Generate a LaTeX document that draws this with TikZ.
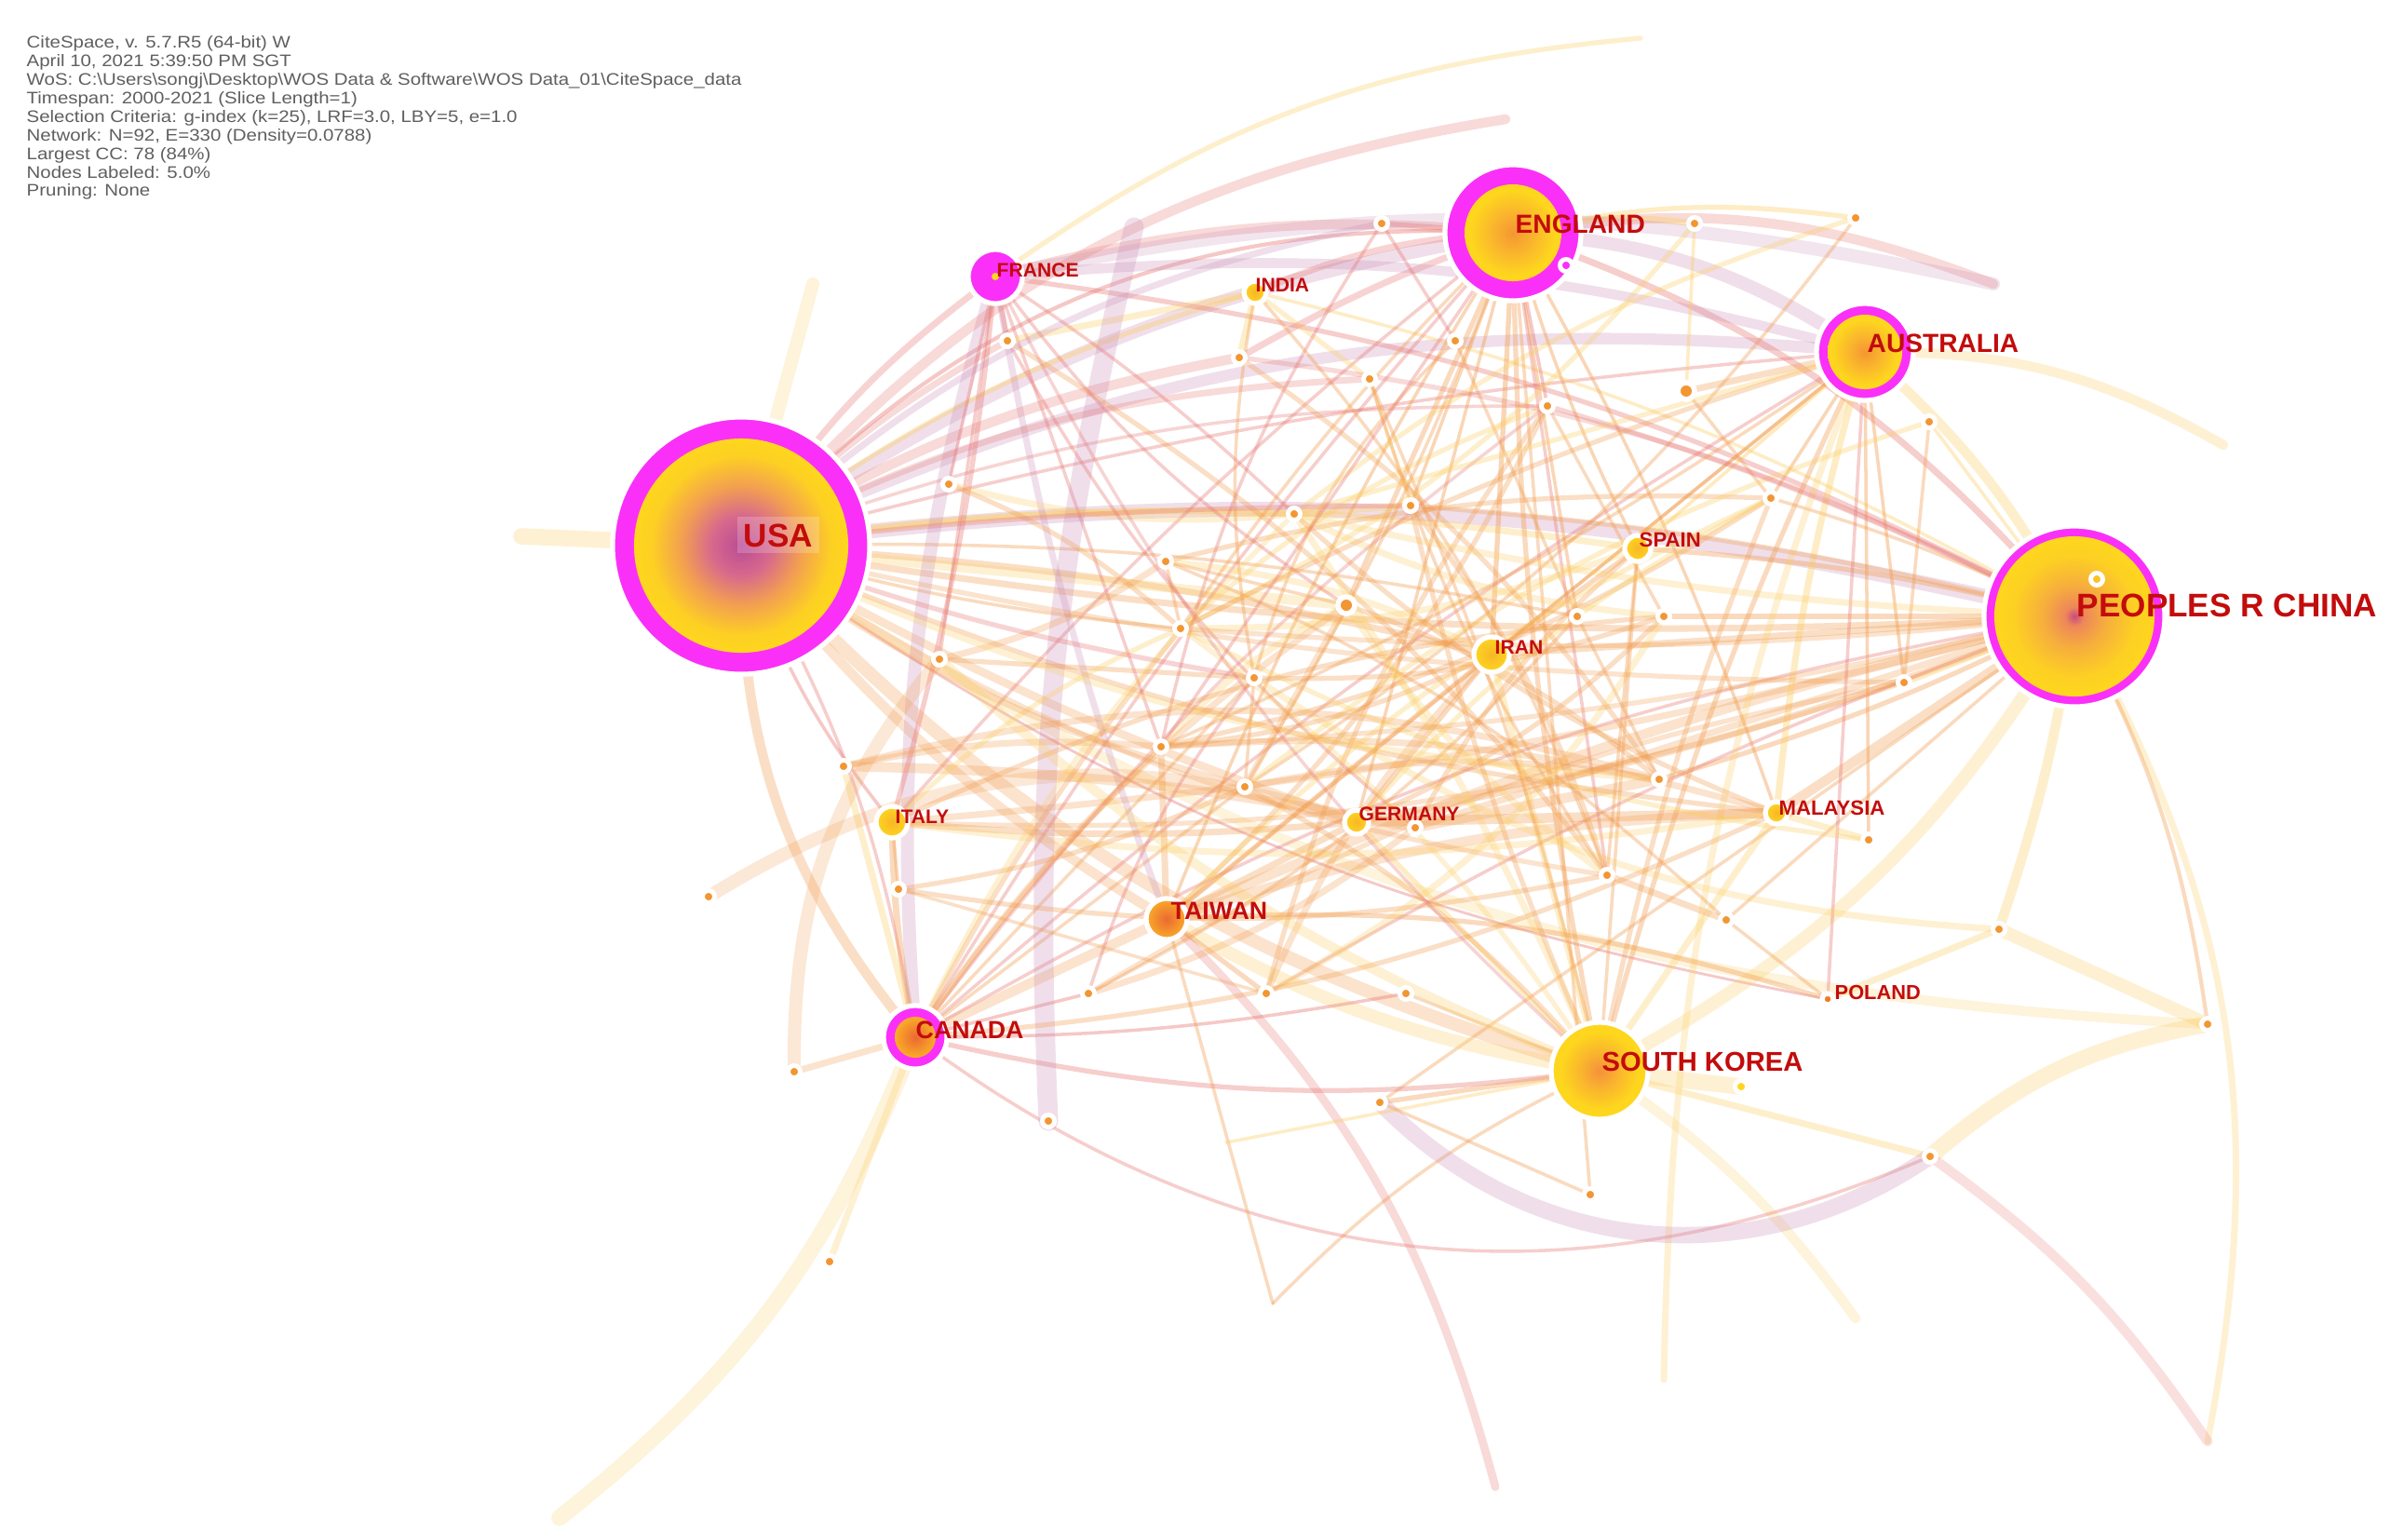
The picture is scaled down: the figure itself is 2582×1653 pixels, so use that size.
\documentclass[tikz,border=0pt]{standalone}
\usepackage{fontspec}
\setmainfont{Liberation Sans}
\newfontfamily\hdrfont[FakeStretch=1.14]{Liberation Sans}
\pgfdeclarelayer{edges}
\pgfsetlayers{edges,main}
\definecolor{ringmag}{RGB}{250,48,248}
\definecolor{labred}{RGB}{195,12,12}
\definecolor{hdrgray}{RGB}{95,95,95}
\definecolor{cY}{RGB}{253,205,95}
\definecolor{cO}{RGB}{242,155,75}
\definecolor{cR}{RGB}{232,120,115}
\definecolor{cM}{RGB}{200,140,180}
\definecolor{nodY}{RGB}{254,214,30}
\definecolor{nodO}{RGB}{242,150,50}
\definecolor{uP}{RGB}{185,75,150}
\definecolor{uP2}{RGB}{215,105,140}
\definecolor{uO}{RGB}{243,160,80}
\definecolor{uY}{RGB}{253,208,35}
\definecolor{cnP}{RGB}{200,75,125}
\definecolor{cnO}{RGB}{238,135,90}
\definecolor{cnO2}{RGB}{246,175,60}
\definecolor{enO}{RGB}{245,150,50}
\definecolor{enO2}{RGB}{250,182,45}
\definecolor{krO}{RGB}{245,145,60}
\definecolor{twO}{RGB}{235,105,50}
\definecolor{twO2}{RGB}{250,172,40}
\definecolor{yC}{RGB}{248,182,40}
\pgfdeclareradialshading{shUSA}{\pgfpoint{0bp}{0bp}}{color(0bp)=(uP); color(7bp)=(uP2); color(14bp)=(uO); color(21bp)=(uY); color(25bp)=(nodY); color(50bp)=(nodY)}
\pgfdeclareradialshading{shCN}{\pgfpoint{0bp}{0bp}}{color(0bp)=(cnP); color(3bp)=(cnO); color(10bp)=(cnO2); color(19bp)=(uY); color(25bp)=(nodY); color(50bp)=(nodY)}
\pgfdeclareradialshading{shEN}{\pgfpoint{0bp}{0bp}}{color(0bp)=(enO); color(11bp)=(enO2); color(22bp)=(nodY); color(50bp)=(nodY)}
\pgfdeclareradialshading{shKR}{\pgfpoint{0bp}{0bp}}{color(0bp)=(krO); color(10bp)=(enO2); color(20bp)=(nodY); color(50bp)=(nodY)}
\pgfdeclareradialshading{shT}{\pgfpoint{0bp}{0bp}}{color(0bp)=(twO); color(25bp)=(twO2); color(50bp)=(twO2)}
\pgfdeclareradialshading{shY}{\pgfpoint{0bp}{0bp}}{color(0bp)=(yC); color(25bp)=(nodY); color(50bp)=(nodY)}
\tikzset{
  ring/.style={circle, inner sep=0pt, fill=ringmag, draw=white, line width=1.5pt},
  smallnode/.style={circle, inner sep=0pt, draw=white, line width=1.5pt},
  dotnode/.style={circle, inner sep=0pt, minimum size=0.13cm, fill=nodO, draw=white, line width=1.4pt},
  bigdot/.style={circle, inner sep=0pt, minimum size=0.18cm, fill=nodO, draw=white, line width=1.6pt},
  edgeline/.style={line cap=round},
  lbl/.style={anchor=base west, inner sep=0pt, text=labred, font=\bfseries},
  hdr/.style={anchor=north west, inner sep=0pt, align=left, text=hdrgray, font=\hdrfont\fontsize{5.1}{5.66}\selectfont}
}
\begin{document}
\begin{tikzpicture}[x=0.01cm,y=-0.01cm]
\useasboundingbox (0,0) rectangle (2582,1653);
% ---- major nodes with magenta rings
\node[ring, minimum size=2.76cm] (usa) at (796,586) {};
\node[ring, minimum size=1.94cm] (china) at (2228,662) {};
\node[ring, minimum size=1.46cm] (england) at (1625,250) {};
\node[ring, minimum size=1.04cm] (australia) at (2003,378) {};
\node[ring, minimum size=0.68cm] (canada) at (983,1114) {};
\node[ring, minimum size=0.58cm] (france) at (1069,297) {};
\shade[shading=shUSA] (usa.center) circle[radius=1.15cm];
\shade[shading=shCN] (china.center) circle[radius=0.86cm];
\shade[shading=shEN] (england.center) circle[radius=0.52cm];
\shade[shading=shEN] (australia.center) circle[radius=0.40cm];
\shade[shading=shT] (canada.center) circle[radius=0.22cm];
\fill[nodY] (france.center) circle[radius=0.04cm];
% ---- other labelled nodes
\node[smallnode, shading=shKR, minimum size=1.04cm] (korea) at (1718,1150) {};
\node[smallnode, shading=shT, minimum size=0.44cm] (taiwan) at (1253,987) {};
\node[smallnode, shading=shY, minimum size=0.24cm] (india) at (1348,314) {};
\node[smallnode, shading=shY, minimum size=0.28cm] (spain) at (1759,589) {};
\node[smallnode, shading=shY, minimum size=0.38cm] (iran) at (1602,703) {};
\node[smallnode, shading=shY, minimum size=0.26cm] (germany) at (1457,883) {};
\node[smallnode, shading=shY, minimum size=0.24cm] (malaysia) at (1908,873) {};
\node[smallnode, shading=shY, minimum size=0.34cm] (italy) at (958,883) {};
\node[smallnode, shading=shT, minimum size=0.12cm] (poland) at (1963,1073) {};
% ---- unlabelled nodes
\foreach \nm/\px/\py in {d1/1082/366, d2/1331/384, d3/1471/407, d4/1563/366, d5/1484/240,
  d6/1820/240, d7/1993/234, d9/1662/436, d10/1902/535, d11/2072/453, d12/1390/552,
  d13/1515/543, d14/1694/662, d15/1787/662, d16/2045/733, d17/1782/837, d18/2007/902,
  d19/1726/940, d20/1854/988, d21/2147/998, d22/2371/1100, d24/2073/1242,
  d25/1708/1283, d26/1482/1184, d27/1510/1067, d28/1360/1067, d29/1169/1067, d30/1126/1204,
  d31/853/1151, d32/761/963, d33/906/823, d34/965/955, d35/1009/708, d36/1347/728,
  d37/1247/802, d38/1337/845, d39/1520/889, d40/1268/675, d41/1019/520, d42/1252/603,
  d43/891/1355}{\node[dotnode] (\nm) at (\px,\py) {};}
\node[bigdot] (d8) at (1811,420) {};
\node[bigdot] (d44) at (1446,650) {};
\node[dotnode, fill=nodY] (d23) at (1870,1167) {};
\node[dotnode, fill=ringmag] (d45) at (1682,285) {};
\node[dotnode, fill=nodY!70!nodO] (d46) at (2252,622) {};
% ---- free ends of edges
\foreach \nm/\px/\py in {f1/1218/244, f2/1617/128, f3/1762/41, f4/560/576, f5/873/305,
  f6/601/1630, f7/1606/1597, f8/1993/1416, f9/1787/1482, f10/2371/1548, f11/1367/1400,
  f12/2388/478, f13/2141/305, f15/1317/1227}{\coordinate (\nm) at (\px,\py);}
% ---- edges (positive bend: bulge to the right of travel)
\begin{pgfonlayer}{edges}
\fill[white] (0,0) rectangle (2582,1653);
\foreach \na/\nb/\bd/\ec/\ew/\eo in {
 usa/china/-10/cM/4.5/0.3, usa/china/6/cO/2/0.35, usa/england/-12/cM/4/0.3,
 usa/england/-25/cR/1.2/0.45, usa/australia/-15/cM/3.5/0.3, usa/australia/-5/cR/1/0.4,
 usa/korea/15/cO/4/0.3, usa/canada/20/cO/3/0.35, usa/canada/-10/cR/1/0.4,
 usa/taiwan/10/cO/3/0.3, usa/france/-10/cR/2/0.35, usa/italy/10/cR/1/0.45,
 usa/iran/-5/cO/2/0.35, usa/spain/-8/cY/2/0.35, usa/germany/5/cO/2.5/0.3,
 usa/malaysia/8/cO/1.5/0.35, usa/india/-10/cY/1.5/0.4, usa/poland/12/cR/0.8/0.45,
 usa/d44/0/cY/3/0.3, usa/d12/-5/cY/2/0.35, usa/d40/5/cO/1/0.4, usa/d22/15/cY/3/0.25,
 usa/f4/0/cY/5/0.3, usa/d14/-6/cO/1/0.4, usa/d9/-10/cR/1/0.35, usa/d2/-10/cR/3/0.3,
 china/england/15/cR/2/0.4, china/australia/10/cY/3/0.35, china/korea/-15/cY/4/0.3,
 china/taiwan/5/cO/3/0.3, china/canada/10/cR/1/0.4, china/malaysia/0/cO/3/0.35,
 china/spain/5/cO/1.5/0.4, china/iran/0/cO/2/0.35, china/germany/-5/cO/2/0.35,
 china/italy/-5/cO/2/0.3, china/france/10/cR/1.5/0.4, china/india/8/cY/1/0.4,
 china/d15/0/cO/1.5/0.4, china/d17/-5/cO/1.5/0.4, china/d16/0/cY/2/0.4,
 china/d10/5/cO/1/0.4, china/d11/0/cY/1/0.4, china/d20/0/cO/1/0.4,
 china/d21/-5/cY/3/0.35, china/d26/0/cO/1/0.4, china/d28/5/cR/1/0.4,
 china/f10/-20/cY/2/0.3, china/d22/-10/cO/1.2/0.4,
 england/australia/-15/cM/4/0.3, england/korea/5/cO/1.5/0.4, england/france/10/cR/3/0.3,
 england/canada/5/cR/1/0.4, england/taiwan/5/cO/1/0.45, england/iran/0/cO/1.5/0.45,
 england/spain/5/cO/1/0.45, england/germany/0/cO/1/0.45, england/malaysia/-5/cO/1/0.45,
 england/italy/5/cR/1/0.4, england/india/10/cR/2/0.35, england/d2/5/cR/2/0.35,
 england/d9/0/cR/1/0.45, england/d13/0/cO/1/0.45, england/d14/0/cO/1/0.45,
 england/d19/0/cR/1/0.4, england/d25/0/cO/1/0.4, england/d44/0/cO/1.5/0.4,
 england/f13/-15/cR/3/0.3, england/d6/-10/cY/2/0.4, england/d7/-10/cY/1.5/0.4,
 england/d5/0/cR/1.5/0.4,
 australia/korea/5/cO/1.5/0.4, australia/malaysia/5/cY/2/0.4, australia/france/10/cM/3/0.3,
 australia/canada/5/cR/1/0.4, australia/iran/0/cO/1/0.45, australia/spain/0/cY/1/0.45,
 australia/taiwan/0/cO/1/0.4, australia/poland/0/cR/1/0.4, australia/f12/-15/cY/3/0.3,
 australia/d10/0/cO/1/0.45, australia/d16/0/cO/1/0.45, australia/d18/0/cO/1/0.45,
 australia/f9/10/cY/2/0.3, australia/d8/0/cO/2/0.35,
 korea/taiwan/-10/cY/4/0.3, korea/canada/-10/cR/1.5/0.4, korea/malaysia/0/cY/2/0.35,
 korea/iran/0/cY/2/0.35, korea/germany/0/cY/1.5/0.4, korea/spain/0/cO/1/0.4,
 korea/d23/0/cY/5/0.3, korea/f8/-10/cY/3/0.25, korea/f11/10/cO/1/0.4,
 korea/d26/0/cO/1.5/0.4, korea/d27/0/cO/1/0.4, korea/d24/0/cY/2/0.35,
 canada/taiwan/0/cO/3/0.3, canada/italy/-5/cO/2/0.4, canada/france/-10/cM/4/0.3,
 canada/f6/-15/cY/5/0.25, canada/d29/0/cR/1/0.45, canada/d36/0/cO/1/0.4,
 canada/d38/0/cO/1/0.4, canada/d33/0/cY/2/0.35, canada/d31/0/cO/2/0.3,
 canada/d27/5/cR/1/0.45, canada/d24/30/cR/1/0.4,
 france/italy/-5/cR/1.5/0.4, france/taiwan/5/cM/2/0.3, france/d1/0/cR/1.5/0.4,
 usa/f2/-20/cR/3/0.3, france/d41/0/cR/1/0.4, france/d35/0/cR/1/0.4,
 france/d37/0/cR/1/0.4, france/f13/-12/cM/4/0.25,
 taiwan/d28/0/cO/1.5/0.4, taiwan/f7/-15/cR/2.5/0.3, taiwan/f11/0/cO/1/0.4,
 taiwan/d37/0/cO/2/0.35, taiwan/germany/0/cO/2/0.35, taiwan/malaysia/-8/cO/3/0.3,
 taiwan/iran/0/cO/1.5/0.4, taiwan/poland/-10/cO/1.5/0.4,
 germany/malaysia/0/cO/3/0.35, germany/iran/0/cO/1.5/0.4, spain/iran/0/cO/1.5/0.4,
 italy/germany/5/cO/2/0.35, italy/malaysia/8/cY/2/0.3, italy/d34/0/cO/1/0.4,
 india/d1/0/cY/2/0.35, india/d2/0/cY/2/0.35, india/d3/0/cY/1.5/0.35,
 d32/germany/-25/cO/4/0.25, d31/d35/-20/cO/4/0.25, d43/canada/0/cY/2/0.3,
 f1/d30/8/cM/6/0.3, f5/usa/0/cY/4/0.25, france/f3/-15/cY/1.5/0.35,
 d26/d24/40/cM/5/0.3, d24/d22/-15/cY/5/0.3, d21/d22/0/cY/4/0.3,
 d24/f10/-10/cR/3/0.25, f15/korea/0/cY/1/0.4, d25/d26/0/cO/1/0.4,
 poland/d20/0/cO/1/0.4, poland/d21/0/cY/2/0.35, malaysia/d18/0/cY/2/0.35,
 d19/d20/0/cO/2/0.35, d17/d39/0/cO/3/0.3, d12/d13/0/cY/2/0.35,
 d40/d42/0/cO/1/0.4, d42/d44/0/cO/1/0.4, d9/d15/0/cO/1/0.4, d14/d17/0/cO/1/0.4,
 d3/d13/0/cY/1/0.4, d4/d14/0/cO/1/0.4, d5/d4/0/cR/1/0.4, d6/d8/0/cY/1/0.4,
 d8/d10/0/cO/1/0.4, d11/d16/0/cO/1/0.4, d36/d38/0/cO/1/0.4, d33/d39/-5/cO/3/0.3,
 d41/d12/10/cY/2/0.3, d41/d40/-10/cO/1.5/0.35, d35/d42/10/cO/2/0.3,
 d35/d36/0/cO/1.5/0.35, d33/d37/-8/cO/2/0.3, d34/d38/8/cO/1.5/0.35,
 d34/d28/0/cO/1/0.35, d29/d36/-10/cR/1/0.4, d29/d39/10/cO/2/0.3,
 d37/d44/-10/cY/2/0.3, d38/d17/-10/cO/2/0.3, d36/d15/10/cO/1.5/0.35,
 d40/d9/-10/cY/1.5/0.35, d42/d10/-8/cO/1.5/0.35, d12/d15/10/cY/2/0.3,
 d13/d19/-10/cO/1.5/0.35, d3/d19/8/cO/1/0.4, d2/d17/-10/cO/1.5/0.35,
 d1/d39/10/cR/1/0.4, d1/d19/-10/cO/1.5/0.35, d4/d36/15/cO/1/0.4,
 d5/d37/10/cR/1/0.4, d6/d40/-12/cY/1.5/0.35, d7/d12/10/cY/1.5/0.35,
 d7/d38/-10/cO/1/0.4, d9/d28/10/cO/1.5/0.35, d10/d37/-10/cO/1.5/0.35,
 d11/d38/10/cY/1.5/0.35, d16/d29/10/cO/1.5/0.3, d18/d40/-10/cY/1.5/0.35,
 d20/d42/10/cO/1/0.4, d21/d36/-15/cY/2/0.3, d14/d29/-10/cO/1/0.4,
 d15/d28/-15/cY/2/0.3, d17/d33/15/cO/2/0.3, d19/d34/-10/cO/1.5/0.35,
 d44/d38/0/cO/2/0.3, d44/d19/10/cY/2/0.3, d44/d17/-10/cO/1.5/0.35,
 iran/d28/10/cO/2/0.3, iran/d37/-10/cO/1.5/0.35, iran/d42/10/cY/2/0.3,
 spain/d39/10/cO/1.5/0.35, spain/d40/-10/cY/2/0.3, spain/d19/0/cO/1/0.4,
 germany/d15/10/cO/1.5/0.35, germany/d10/-10/cY/1.5/0.35, malaysia/d37/10/cO/2/0.3,
 malaysia/d12/-10/cO/1.5/0.35, india/d36/10/cO/1/0.4, india/d19/-10/cO/1/0.4,
 taiwan/d9/10/cO/1.5/0.35, taiwan/d10/-10/cY/1.5/0.35, italy/d15/-10/cO/1.5/0.35,
 italy/d16/10/cO/1.5/0.3, italy/d40/-10/cY/1.5/0.35,
 usa/d38/10/cO/2/0.3, usa/d36/5/cR/1.5/0.35, usa/d19/12/cO/1.5/0.3,
 usa/d17/10/cY/2/0.3, usa/d16/6/cO/1.5/0.3, usa/d13/-3/cR/1.5/0.35,
 usa/d3/-12/cR/2/0.3, usa/d1/-8/cR/2/0.3, usa/d5/-15/cM/2/0.3,
 china/d12/-5/cY/2/0.3, china/d13/5/cO/1.5/0.35, china/d9/5/cR/1.5/0.35,
 china/d2/10/cR/1.5/0.3, china/d40/-5/cO/1.5/0.3, china/d37/-5/cO/1.5/0.3,
 china/d39/0/cO/2/0.3, korea/d38/10/cO/1.5/0.35, korea/d12/5/cY/2/0.3,
 korea/d13/-5/cO/1.5/0.35, korea/d40/10/cY/1.5/0.3, korea/d10/-5/cO/1.5/0.35,
 korea/d3/5/cO/1/0.4, korea/d35/-10/cY/3/0.3, canada/d40/-5/cO/1.5/0.35,
 canada/d44/-10/cO/2/0.3, canada/d12/-10/cY/1.5/0.3, canada/d9/-8/cR/1/0.35,
 canada/d37/-5/cO/1.5/0.35, canada/malaysia/10/cO/1.5/0.35, france/d44/10/cR/1/0.4,
 france/d12/-5/cR/1/0.4, france/korea/10/cR/1/0.35, australia/d40/5/cO/1.5/0.35,
 australia/d37/-5/cO/1/0.4, australia/d12/0/cY/1.5/0.35, england/d40/5/cO/1/0.4,
 england/d37/0/cR/1/0.4, england/d38/-5/cO/1/0.4}{
 \draw[edgeline, draw=\ec, line width=\ew*1pt, draw opacity=\eo*0.9] (\na.center) to[bend right=\bd] (\nb.center);
}
\end{pgfonlayer}
% ---- labels
\node[lbl, fill=white, fill opacity=0.2, text opacity=1, inner sep=2pt] (lusa) at (791,587) {\fontsize{10}{12}\selectfont USA};
\node[lbl] (lchina) at (2230,662) {\fontsize{10}{12}\selectfont PEOPLES R CHINA};
\node[lbl] (lengland) at (1627,250) {\fontsize{8}{10}\selectfont ENGLAND};
\node[lbl] (laustralia) at (2005,378) {\fontsize{8}{10}\selectfont AUSTRALIA};
\node[lbl] (lkorea) at (1720,1150) {\fontsize{8.3}{10}\selectfont SOUTH KOREA};
\node[lbl] (lcanada) at (983,1115) {\fontsize{7.6}{9}\selectfont CANADA};
\node[lbl] (ltaiwan) at (1257,987) {\fontsize{7.6}{9}\selectfont TAIWAN};
\node[lbl] (lfrance) at (1070,297) {\fontsize{6}{7}\selectfont FRANCE};
\node[lbl] (lindia) at (1348,313) {\fontsize{6}{7}\selectfont INDIA};
\node[lbl] (lspain) at (1760,587) {\fontsize{6.3}{7}\selectfont SPAIN};
\node[lbl] (liran) at (1605,702) {\fontsize{6}{7}\selectfont IRAN};
\node[lbl] (lgermany) at (1459,881) {\fontsize{6}{7}\selectfont GERMANY};
\node[lbl] (lmalaysia) at (1910,875) {\fontsize{6.3}{7}\selectfont MALAYSIA};
\node[lbl] (lpoland) at (1970,1073) {\fontsize{6.2}{7}\selectfont POLAND};
\node[lbl] (litaly) at (961,884) {\fontsize{6}{7}\selectfont ITALY};
% ---- header
\node[hdr] (header) at (28,38) {CiteSpace, v. 5.7.R5 (64-bit) W\\
April 10, 2021 5:39:50 PM SGT\\
WoS: C:\textbackslash Users\textbackslash songj\textbackslash Desktop\textbackslash WOS Data \& Software\textbackslash WOS Data\_01\textbackslash CiteSpace\_data\\
Timespan: 2000-2021 (Slice Length=1)\\
Selection Criteria: g-index (k=25), LRF=3.0, LBY=5, e=1.0\\
Network: N=92, E=330 (Density=0.0788)\\
Largest CC: 78 (84\%)\\
Nodes Labeled: 5.0\%\\
Pruning: None};
\end{tikzpicture}
\end{document}
